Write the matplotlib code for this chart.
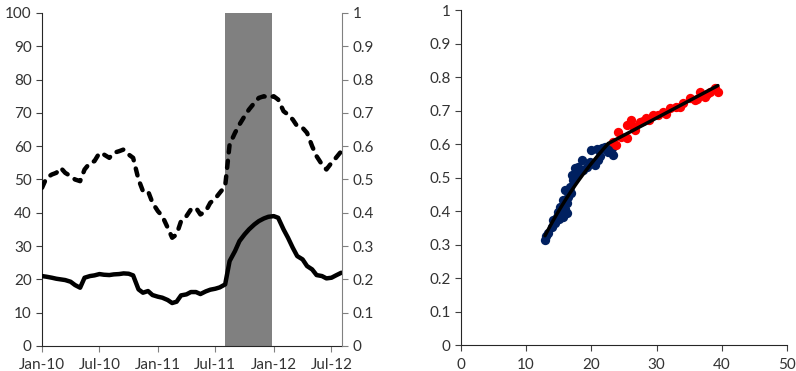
import numpy as np
import pandas as pd
import matplotlib
matplotlib.use("Agg")
import matplotlib.pyplot as plt
import matplotlib.dates as mdates

plt.rcParams['font.family'] = ['Lato', 'DejaVu Sans']

# semi-monthly observations, Jan 2010 - Aug 2012
dates = pd.date_range('2010-01-01', '2012-08-01', freq='SMS')

# dashed series (right axis, 0-1)
dashed = np.array([
    47.5, 50.5, 51.5, 52.0, 53.5, 52.0, 51.0, 50.0, 49.5, 53.0,
    55.0, 55.5, 58.0, 57.5, 56.5, 58.0, 58.5, 59.0, 57.5, 56.5,
    50.0, 46.5, 46.5, 43.0, 40.5, 39.0, 35.5, 32.5, 33.5, 37.5,
    39.0, 41.0, 41.5, 39.5, 40.5, 43.0, 44.3, 46.0, 48.0, 60.5,
    64.0, 66.5, 69.0, 71.0, 73.0, 74.5, 75.0, 74.5, 75.0, 74.0,
    70.5, 69.5, 68.0, 66.0, 65.5, 64.0, 60.0, 57.0, 54.5, 53.0,
    55.0, 56.5, 58.5]) / 100.0

# solid series (left axis, 0-100)
solid = np.array([
    21.0, 20.8, 20.5, 20.2, 20.0, 19.8, 19.3, 18.3, 17.5, 20.5,
    21.0, 21.2, 21.6, 21.4, 21.3, 21.5, 21.6, 21.8, 21.7, 21.2,
    17.0, 16.0, 16.5, 15.3, 14.8, 14.5, 13.8, 12.9, 13.3, 15.2,
    15.5, 16.2, 16.2, 15.6, 16.4, 16.9, 17.2, 17.6, 18.5, 25.5,
    28.5, 31.5, 33.5, 35.0, 36.5, 37.5, 38.3, 38.8, 39.0, 38.5,
    35.0, 32.5, 29.5, 27.0, 26.0, 24.0, 23.0, 21.3, 21.0, 20.3,
    20.5, 21.2, 22.0])

shade_start = pd.Timestamp('2011-08-01')
shade_end = pd.Timestamp('2011-12-26')

# scatter (right panel)
blue_x = [12.9, 13.4, 13.9, 14.1, 14.7, 14.9, 15.2, 15.4, 15.7, 15.9,
          16.2, 16.4, 16.7, 17.0, 17.2, 17.5, 18.0, 18.5, 18.7, 19.3,
          20.0, 20.5, 21.0, 21.6, 22.1, 22.6, 23.1, 23.3, 15.7, 16.2,
          14.4, 16.9, 19.8, 21.4, 13.1, 15.0, 16.0, 17.8, 20.8, 22.9]
blue_y = [0.315, 0.333, 0.353, 0.373, 0.383, 0.398, 0.413, 0.393, 0.433, 0.463,
          0.423, 0.443, 0.473, 0.507, 0.493, 0.527, 0.532, 0.552, 0.522, 0.532,
          0.582, 0.537, 0.552, 0.587, 0.592, 0.577, 0.587, 0.567, 0.383, 0.393,
          0.365, 0.455, 0.545, 0.565, 0.325, 0.375, 0.405, 0.51, 0.585, 0.575]
red_x = [23.3, 24.1, 24.6, 25.4, 25.4, 26.1, 26.7, 27.4, 28.4, 29.5,
         30.2, 31.0, 32.0, 33.0, 34.1, 35.1, 35.9, 36.6, 37.4, 38.2,
         38.9, 39.4, 28.9, 31.5, 33.6, 36.2, 37.8, 23.8, 26.4, 27.9]
red_y = [0.607, 0.637, 0.622, 0.617, 0.657, 0.672, 0.642, 0.667, 0.677, 0.687,
         0.687, 0.697, 0.707, 0.711, 0.721, 0.736, 0.731, 0.756, 0.741, 0.756,
         0.766, 0.756, 0.672, 0.690, 0.712, 0.735, 0.748, 0.598, 0.655, 0.668]

fig = plt.figure(figsize=(7.96, 3.71), dpi=100)
txt = '#333333'

# ---- left panel
ax = fig.add_axes([0.0528, 0.0674, 0.3768, 0.8976])
ax2 = ax.twinx()
ax.axvspan(shade_start, shade_end, color='#808080', lw=0, zorder=0)
ax.plot(dates, solid, color='black', lw=3.2, solid_capstyle='round', zorder=3)
ax2.plot(dates, dashed, color='black', lw=3.2, dash_capstyle='round',
         linestyle=(0, (1.6, 1.9)), zorder=3)

ax.set_ylim(0, 100)
ax.set_yticks(np.arange(0, 101, 10))
ax2.set_ylim(0, 1)
ax2.set_yticks(np.arange(0, 1.01, 0.1))
ax2.set_yticklabels(['0'] + ['%.1f' % v for v in np.arange(0.1, 0.95, 0.1)] + ['1'])
ax.set_xlim(pd.Timestamp('2010-01-01'), pd.Timestamp('2012-08-03'))
ax.xaxis.set_major_locator(mdates.MonthLocator(bymonth=[1, 7]))
ax.xaxis.set_major_formatter(mdates.DateFormatter('%b-%y'))

for a in (ax, ax2):
    a.spines['top'].set_visible(False)
    a.tick_params(labelsize=11, colors=txt, length=4, width=0.8)
ax.spines['right'].set_visible(False)
ax2.spines['left'].set_visible(False)
ax2.spines['bottom'].set_visible(False)
ax.spines['left'].set_color('#262626')
ax.spines['bottom'].set_color('#262626')
ax2.spines['right'].set_color('#808080')
ax.tick_params(axis='y', color='#404040')
ax.tick_params(axis='x', color='#808080', pad=5)
ax2.tick_params(axis='y', color='#808080')

# ---- right panel
bx = fig.add_axes([0.579, 0.070, 0.4097, 0.903])
bx.scatter(blue_x, blue_y, s=45, color='#002060', lw=0, zorder=2)
bx.scatter(red_x, red_y, s=45, color='#FF0000', lw=0, zorder=2)

# fitted curves: log fit on the blue group, then a line on the red group
# that starts where the blue fit ends
bxa, rxa, rya = np.array(blue_x), np.array(red_x), np.array(red_y)
b1, a1 = np.polyfit(np.log(bxa), blue_y, 1)
x0 = 22.6
y0 = a1 + b1 * np.log(x0)
slope = np.sum((rxa - x0) * (rya - y0)) / np.sum((rxa - x0) ** 2)
xs1 = np.linspace(bxa.min(), x0, 40)
xs2 = np.linspace(x0, rxa.max(), 40)
bx.plot(xs1, a1 + b1 * np.log(xs1), color='black', lw=2.5, zorder=3,
        solid_capstyle='round')
bx.plot(xs2, y0 + slope * (xs2 - x0), color='black', lw=2.5, zorder=3,
        solid_capstyle='round')

bx.set_xlim(0, 50)
bx.set_ylim(0, 1)
bx.set_xticks(np.arange(0, 51, 10))
bx.set_yticks(np.arange(0, 1.01, 0.1))
bx.set_yticklabels(['0'] + ['%.1f' % v for v in np.arange(0.1, 0.95, 0.1)] + ['1'])
bx.spines['top'].set_visible(False)
bx.spines['right'].set_visible(False)
bx.spines['left'].set_color('#262626')
bx.spines['bottom'].set_color('#262626')
bx.tick_params(labelsize=11, colors=txt, color='#404040', length=4, width=0.8)
bx.tick_params(axis='x', pad=5)

fig.savefig('out.png', dpi=100)
